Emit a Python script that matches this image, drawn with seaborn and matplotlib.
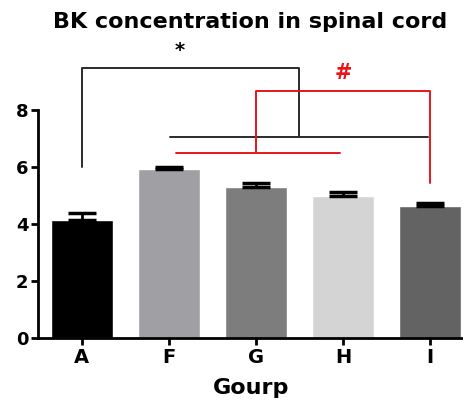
import matplotlib
matplotlib.use("Agg")
import matplotlib.pyplot as plt
import numpy as np
import pandas as pd
import seaborn as sns

groups = ["A", "F", "G", "H", "I"]
means = [4.14, 5.93, 5.30, 4.98, 4.63]
errors = [0.25, 0.07, 0.15, 0.15, 0.11]
bar_colors = ["#000000", "#a0a0a4", "#7d7d7d", "#d4d4d4", "#636363"]

sns.set_theme(style="ticks")
plt.rcParams["font.family"] = ["DejaVu Sans"]
plt.rcParams["text.color"] = "black"
plt.rcParams["axes.labelcolor"] = "black"
plt.rcParams["xtick.color"] = "black"
plt.rcParams["ytick.color"] = "black"

df = pd.DataFrame({"group": groups, "value": means})

fig = plt.figure(figsize=(4.64, 4.01), dpi=100)
ax = fig.add_axes([0.082, 0.157, 0.918, 0.782])

sns.barplot(data=df, x="group", y="value", hue="group", palette=bar_colors,
            legend=False, width=0.71, ax=ax, errorbar=None, saturation=1)
x = np.arange(len(groups))
ax.errorbar(x, means, yerr=[np.zeros(len(errors)), errors], fmt="none",
            ecolor="black", elinewidth=2, capsize=10, capthick=2.5, zorder=1)

ax.set_xlim(-0.5, 4.39)
ax.set_ylim(0, 11)
ax.set_yticks([0, 2, 4, 6, 8])
ax.spines["left"].set_bounds(0, 8)
sns.despine(ax=ax)
for s in ["left", "bottom"]:
    ax.spines[s].set_linewidth(2)
    ax.spines[s].set_color("black")
ax.tick_params(axis="both", width=2, length=5, color="black", labelcolor="black", pad=2)
ax.tick_params(axis="y", labelsize=13)
ax.tick_params(axis="x", labelsize=14)
for lab in ax.get_xticklabels() + ax.get_yticklabels():
    lab.set_fontweight("bold")

ax.set_xlabel("Gourp", fontsize=16, fontweight="bold", labelpad=8, color="black")
ax.set_ylabel("")
fig.text(0.539, 0.945, "BK concentration in spinal cord", fontsize=16,
         fontweight="bold", ha="center", va="center", color="black")

# significance brackets
blk = "#2b2b2b"
red = "#e8141c"
lw = 1.4
ax.plot([0, 0, 2.5, 2.5], [6.0, 9.47, 9.47, 7.05], color=blk, lw=lw, clip_on=False)
ax.plot([1.02, 3.98], [7.05, 7.05], color=blk, lw=lw)
ax.text(1.13, 9.75, "*", ha="center", va="bottom", fontsize=14, fontweight="bold", color="black")

ax.plot([2, 2, 4, 4], [6.49, 8.67, 8.67, 5.44], color=red, lw=lw)
ax.plot([1.08, 2.97], [6.49, 6.49], color=red, lw=lw)
ax.text(3.0, 8.95, "#", ha="center", va="bottom", fontsize=15, fontweight="bold", color=red)

fig.savefig("out.png", dpi=100)
